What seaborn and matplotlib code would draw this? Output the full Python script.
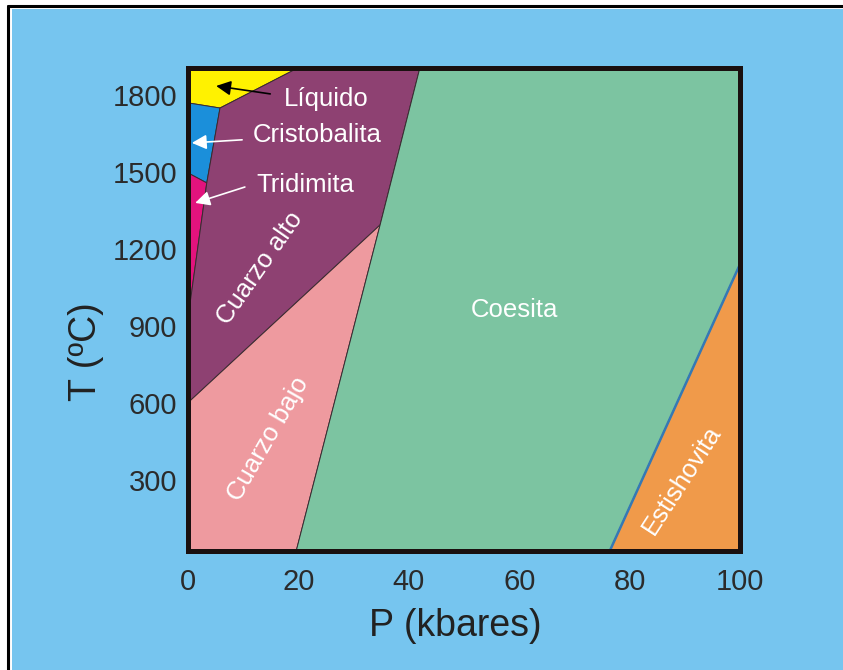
import matplotlib
matplotlib.use("Agg")
import matplotlib.pyplot as plt
from matplotlib.patches import Rectangle
from matplotlib.lines import Line2D
import seaborn as sns
import pandas as pd

# ---------------- data (P in kbar, T in °C) ----------------
P_MIN, P_MAX = 0, 100
T_MIN, T_MAX = 22, 1905

liquido_P = [0, 5.8, 19.9, 0]
liquido_T = [1769, 1749, 1905, 1905]

cristobalita_P = [0, 5.8, 3.4, 0]
cristobalita_T = [1769, 1749, 1457, 1496]

tridimita_P = [0, 3.4, 0.2, 0]
tridimita_T = [1496, 1457, 960, 960]

alto_P = [0, 0.2, 3.4, 5.8, 19.9, 42.0, 34.8, 0]
alto_T = [960, 960, 1457, 1749, 1905, 1905, 1293, 600]

bajo_P = [0, 34.8, 19.6, 0]
bajo_T = [600, 1293, 22, 22]

coesita_P = [19.6, 34.8, 42.0, 100, 100, 76.4]
coesita_T = [22, 1293, 1905, 1905, 1140, 22]

estishovita_P = [76.4, 100, 100]
estishovita_T = [22, 1140, 22]

boundary_cs_P = [76.4, 100]
boundary_cs_T = [22, 1140]

x_major = [0, 20, 40, 60, 80, 100]
x_minor = [10, 30, 50, 70, 90]
y_ticks = [300, 600, 900, 1200, 1500, 1800]

region_names = ["Líquido", "Cristobalita", "Tridimita", "Cuarzo alto",
                "Cuarzo bajo", "Coesita", "Estishovita"]
region_colors = ["#FFF200", "#1B8FDA", "#E2137D", "#8E4172",
                 "#EE9A9F", "#7CC4A1", "#F09A4A"]
region_P = [liquido_P, cristobalita_P, tridimita_P, alto_P, bajo_P,
            coesita_P, estishovita_P]
region_T = [liquido_T, cristobalita_T, tridimita_T, alto_T, bajo_T,
            coesita_T, estishovita_T]

# label positions / rotations
label_P = [25.1, 23.4, 21.2, 13.0, 14.6, 59.2, 89.5]
label_T = [1785, 1645, 1450, 1126, 460, 962, 300]
label_rot = [0, 0, 0, 55, 60, 0, 57]

# arrows: (tail) -> (tip)
arrow_tail_P = [14.9, 9.8, 10.3]
arrow_tail_T = [1804, 1625, 1441]
arrow_tip_P = [5.1, 0.7, 1.3]
arrow_tip_T = [1835, 1613, 1379]
arrow_colors = ["black", "white", "white"]

# ---------------- figure ----------------
sns.set_style("ticks")
plt.rcParams["font.family"] = ["Liberation Sans", "DejaVu Sans"]

W, H = 843, 670
fig = plt.figure(figsize=(W / 100, H / 100), dpi=100)
fig.patch.set_facecolor("white")

# light-blue panel and black frame lines
fig.patches.append(Rectangle((12.0 / W, 0), 1, 1 - 9.3 / H,
                             transform=fig.transFigure, facecolor="#76C5EF",
                             edgecolor="none", zorder=-10))
fig.lines.append(Line2D([7.5 / W, 1], [1 - 6.2 / H, 1 - 6.2 / H],
                        transform=fig.transFigure, color="black", lw=2.2,
                        zorder=-5))
fig.lines.append(Line2D([8.2 / W, 8.2 / W], [0, 1 - 6.2 / H],
                        transform=fig.transFigure, color="black", lw=2.2,
                        zorder=-5))

ax_l, ax_r, ax_t, ax_b = 188, 740, 68, 551
ax = fig.add_axes([ax_l / W, 1 - ax_b / H, (ax_r - ax_l) / W, (ax_b - ax_t) / H])
ax.set_zorder(1)
ax.set_facecolor("none")

for Ps, Ts, c in zip(region_P, region_T, region_colors):
    ax.fill(Ps, Ts, facecolor=c, edgecolor="#3a2a30", lw=0.7, zorder=1)

df_b = pd.DataFrame({"P": boundary_cs_P, "T": boundary_cs_T})
sns.lineplot(data=df_b, x="P", y="T", ax=ax, color="#3579B5", lw=1.8,
             sort=False, zorder=2)

for name, p, t, r in zip(region_names, label_P, label_T, label_rot):
    ax.text(p, t, name, color="white", fontsize=18.5, rotation=r,
            ha="center", va="center", rotation_mode="anchor", zorder=4)

for tp, tt, hp, ht, c in zip(arrow_tail_P, arrow_tail_T, arrow_tip_P,
                             arrow_tip_T, arrow_colors):
    ax.annotate("", xy=(hp, ht), xytext=(tp, tt),
                arrowprops=dict(arrowstyle="-|>", color=c, lw=1.2,
                                mutation_scale=22, shrinkA=0, shrinkB=0),
                zorder=5)

ax.set_xlim(P_MIN, P_MAX)
ax.set_ylim(T_MIN, T_MAX)
ax.set_xticks(x_major)
ax.set_xticks(x_minor, minor=True)
ax.set_yticks(y_ticks)
ax.tick_params(axis="both", which="both", direction="in", color="#222222",
               width=1.0, labelsize=21, labelcolor="#2b2b2b", pad=8)
ax.tick_params(axis="x", which="major", pad=12)
ax.tick_params(axis="both", which="major", length=9)
ax.tick_params(axis="x", which="minor", length=9)
for s in ax.spines.values():
    s.set_linewidth(3.6)
    s.set_color("#1a1010")
    s.set_zorder(6)

ax.set_xlabel("P (kbares)", fontsize=27, color="#222222", va="center")
ax.set_ylabel("T (ºC)", fontsize=27, color="#222222", va="center", ha="center")
ax.xaxis.set_label_coords((455 - ax_l) / (ax_r - ax_l), (ax_b - 626) / (ax_b - ax_t))
ax.yaxis.set_label_coords((86 - ax_l) / (ax_r - ax_l), (ax_b - 352) / (ax_b - ax_t))

fig.savefig("out.png", dpi=100)
